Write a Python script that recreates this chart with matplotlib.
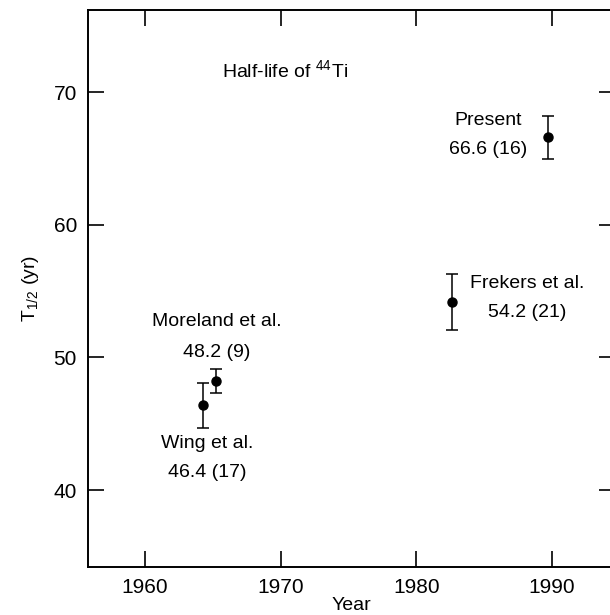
import matplotlib
matplotlib.use("Agg")
import matplotlib.pyplot as plt

plt.rcParams['font.family'] = ['Liberation Sans Narrow', 'Liberation Sans', 'DejaVu Sans']
plt.rcParams['mathtext.fontset'] = 'custom'
plt.rcParams['mathtext.rm'] = 'Liberation Sans'

# Measurements: year, half-life (yr), uncertainty
years = [1964.3, 1965.2, 1982.65, 1989.7]
half_lives = [46.4, 48.2, 54.2, 66.6]
errors = [1.7, 0.9, 2.1, 1.6]

# Annotation text for each point
names = ["Wing et al.", "Moreland et al.", "Frekers et al.", "Present"]
values = ["46.4 (17)", "48.2 (9)", "54.2 (21)", "66.6 (16)"]

x_ticks = [1960, 1970, 1980, 1990]
y_ticks = [40, 50, 60, 70]

fig = plt.figure(figsize=(6.1, 6.15), dpi=100)
ax = fig.add_axes([88 / 610, 48 / 615, 527 / 610, 557 / 615])

ax.errorbar(years, half_lives, yerr=errors, fmt='o', color='black',
            markersize=6.5, capsize=4.5, elinewidth=1.1, capthick=1.1)

# labels placed next to each point
fs = 14
ax.text(1964.6, 43.5, names[0], ha='center', va='center', fontsize=fs)
ax.text(1964.6, 41.35, values[0], ha='center', va='center', fontsize=fs)
ax.text(1965.3, 52.7, names[1], ha='center', va='center', fontsize=fs)
ax.text(1965.3, 50.4, values[1], ha='center', va='center', fontsize=fs)
ax.text(1988.2, 55.6, names[2], ha='center', va='center', fontsize=fs)
ax.text(1988.2, 53.4, values[2], ha='center', va='center', fontsize=fs)
ax.text(1985.3, 67.9, names[3], ha='center', va='center', fontsize=fs)
ax.text(1985.3, 65.7, values[3], ha='center', va='center', fontsize=fs)

ax.text(1965.7, 71.65, r"Half-life of $^{44}$Ti", ha='left', va='center', fontsize=fs)

ax.set_xlim(1955.8, 1994.64)
ax.set_ylim(34.2, 76.2)
ax.set_xticks(x_ticks)
ax.set_yticks(y_ticks)
ax.tick_params(direction='in', length=11.5, width=1.2, labelsize=15,
               top=True, right=True, pad=8)
for sp in ax.spines.values():
    sp.set_linewidth(1.4)

ax.set_xlabel("Year", fontsize=14, labelpad=0)
ax.set_ylabel(r"T$_{1/2}$ (yr)", fontsize=14, labelpad=9)

fig.savefig("out.png", dpi=100)
